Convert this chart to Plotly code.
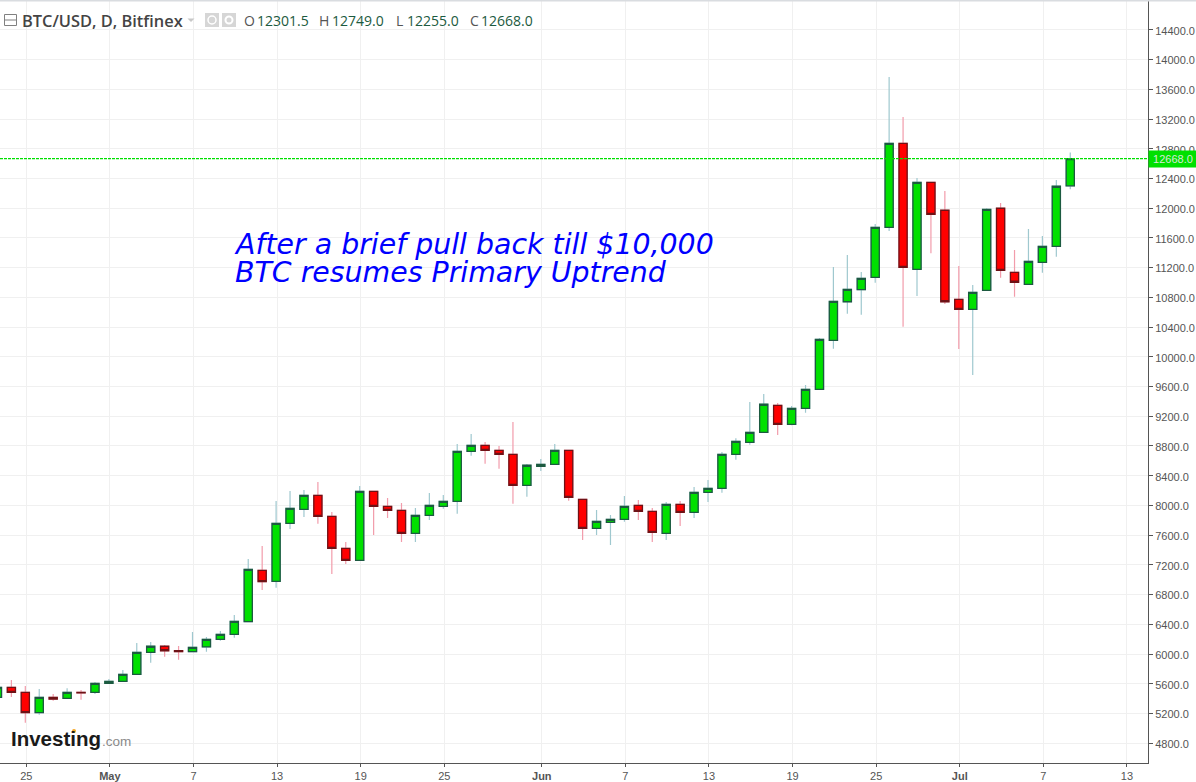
import pandas as pd
import plotly.graph_objects as go

dates = [d.strftime("%Y-%m-%d") for d in pd.date_range("2019-04-23", "2019-07-09")]
opens = [5417, 5552, 5484, 5210, 5417, 5404, 5484, 5484, 5605, 5632, 5727, 6023, 6104, 6044, 6031, 6095, 6198, 6265, 6435, 7126,
         6978, 7759, 7947, 8136, 7853, 7422, 7261, 8190, 7988, 7934, 7624, 7867, 7988, 8055, 8728, 8809, 8741, 8688, 8270, 8526,
         8553, 8741, 8082, 7692, 7772, 7813, 8001, 7920, 7624, 8015, 7907, 8176, 8230, 8688, 8849, 8984, 9347, 9091, 9307, 9562,
         10222, 10741, 10903, 11070, 11743, 12873, 11177, 12348, 11972, 10774, 10639, 10895, 11999, 11137, 10976, 11272, 11487, 12301.5]
highs = [5570, 5650, 5569, 5529, 5461, 5538, 5515, 5623, 5663, 5784, 6148, 6161, 6121, 6107, 6296, 6229, 6309, 6525, 7278, 7453,
         8059, 8194, 8207, 8315, 7911, 7507, 8261, 8190, 8099, 8032, 7965, 8167, 8140, 8826, 8961, 8853, 8799, 9122, 8557, 8624,
         8826, 8741, 8082, 7938, 7871, 8126, 8072, 7965, 8046, 8059, 8247, 8342, 8719, 8903, 9391, 9499, 9378, 9338, 9620, 10253,
         11208, 11370, 11141, 11787, 13766, 13227, 12406, 12348, 12231, 11222, 10966, 11999, 12070, 11437, 11720, 11626, 12379, 12749]
lows = [5410, 5421, 5075, 5183, 5371, 5404, 5385, 5461, 5605, 5632, 5727, 5883, 5963, 5923, 6031, 6031, 6179, 6219, 6435, 6861,
        6892, 7682, 7844, 7754, 7077, 7211, 7261, 7601, 7830, 7507, 7507, 7803, 7955, 7888, 8669, 8561, 8494, 8023, 8117, 8463,
        8553, 8063, 7534, 7601, 7467, 7780, 7803, 7507, 7534, 7723, 7830, 8046, 8171, 8615, 8817, 8984, 8947, 9078, 9247, 9562,
        10109, 10580, 10566, 10997, 11693, 10405, 10818, 11393, 10710, 10105, 9755, 10895, 11064, 10809, 10976, 11132, 11347, 12255]
closes = [5552, 5484, 5210, 5417, 5394, 5484, 5477, 5605, 5632, 5727, 6023, 6104, 6044, 6031, 6090, 6198, 6265, 6440, 7140, 6973,
          7759, 7961, 8136, 7853, 7422, 7261, 8190, 7988, 7934, 7624, 7867, 8001, 8055, 8728, 8809, 8741, 8688, 8270, 8540, 8553,
          8741, 8109, 7692, 7786, 7813, 7988, 7920, 7638, 8015, 7907, 8176, 8230, 8688, 8863, 8984, 9361, 9091, 9307, 9562, 10235,
          10747, 10908, 11056, 11743, 12873, 11204, 12348, 11918, 10741, 10639, 10868, 11985, 11164, 11003, 11285, 11487, 12295, 12668]

x_tick_dates = ["2019-04-25", "2019-05-01", "2019-05-07", "2019-05-13", "2019-05-19", "2019-05-25", "2019-06-01",
                "2019-06-07", "2019-06-13", "2019-06-19", "2019-06-25", "2019-07-01", "2019-07-07", "2019-07-13"]
x_tick_labels = ["25", "<b>May</b>", "7", "13", "19", "25", "<b>Jun</b>", "7", "13", "19", "25", "<b>Jul</b>", "7", "13"]
y_ticks = [14400, 14000, 13600, 13200, 12800, 12400, 12000, 11600, 11200, 10800, 10400, 10000,
           9600, 9200, 8800, 8400, 8000, 7600, 7200, 6800, 6400, 6000, 5600, 5200, 4800]
title_text = "BTC/USD, D, Bitfinex"
ohlc_labels = ["O", "H", "L", "C"]
ohlc_values = ["12301.5", "12749.0", "12255.0", "12668.0"]
note_lines = ["After a brief pull back till $10,000", "BTC resumes Primary Uptrend"]

W, H, PW, PH = 1196, 782, 1148, 763
px = lambda x: x / PW
py = lambda y: 1 - y / PH

GREEN, RED = "#00e000", "#ff0000"
GREEN_EDGE, RED_EDGE = "#1c5a40", "#6e1216"
GREEN_WICK, RED_WICK = "#9fc8cf", "#f29cab"
AXIS, GRID, LABEL = "#555555", "#f0f0f0", "#555555"

fig = go.Figure()
# wicks
fig.add_trace(go.Candlestick(
    x=dates, open=opens, high=highs, low=lows, close=closes, whiskerwidth=0, hoverinfo="skip",
    increasing=dict(line=dict(color=GREEN_WICK, width=1.2), fillcolor=GREEN),
    decreasing=dict(line=dict(color=RED_WICK, width=1.2), fillcolor=RED),
))
# bodies
fig.add_trace(go.Candlestick(
    x=dates, open=opens, close=closes,
    high=[max(o, c) for o, c in zip(opens, closes)],
    low=[min(o, c) for o, c in zip(opens, closes)],
    whiskerwidth=0, hoverinfo="skip",
    increasing=dict(line=dict(color=GREEN_EDGE, width=1.3), fillcolor=GREEN),
    decreasing=dict(line=dict(color=RED_EDGE, width=1.3), fillcolor=RED),
))

shapes = [
    # current price line
    dict(type="line", xref="paper", x0=0, x1=1, yref="y", y0=closes[-1], y1=closes[-1],
         line=dict(color="#00e000", width=1.2, dash="3px,1px"), layer="above"),
    # top strip
    dict(type="rect", xref="paper", yref="paper", x0=0, x1=W / PW, y0=py(1.5), y1=py(0),
         fillcolor="#d9dce0", line_width=0, layer="above"),
    # collapse icon
    dict(type="rect", xref="paper", yref="paper", x0=px(4.5), x1=px(16.5), y0=py(25.5), y1=py(14.5),
         line=dict(color="#808080", width=1), fillcolor="white", layer="above"),
    dict(type="line", xref="paper", yref="paper", x0=px(4.5), x1=px(16.5), y0=py(20), y1=py(20),
         line=dict(color="#808080", width=1), layer="above"),
    # caret
    dict(type="path", xref="paper", yref="paper",
         path=f"M {px(187.5)} {py(18.5)} L {px(194.5)} {py(18.5)} L {px(191)} {py(22)} Z",
         fillcolor="#c8c8c8", line_width=0, layer="above"),
    # eye / gear buttons
    dict(type="rect", xref="paper", yref="paper", x0=px(205), x1=px(219), y0=py(27), y1=py(13),
         fillcolor="#d6d6d6", line_width=0, layer="above"),
    dict(type="rect", xref="paper", yref="paper", x0=px(222), x1=px(236), y0=py(27), y1=py(13),
         fillcolor="#d6d6d6", line_width=0, layer="above"),
    dict(type="circle", xref="paper", yref="paper", x0=px(208), x1=px(216), y0=py(24), y1=py(16),
         fillcolor="#d6d6d6", line=dict(color="white", width=1.5), layer="above"),
    dict(type="circle", xref="paper", yref="paper", x0=px(225.5), x1=px(232.5), y0=py(23.5), y1=py(16.5),
         fillcolor="#d6d6d6", line=dict(color="white", width=2), layer="above"),
    # logo dot
    dict(type="circle", xref="paper", yref="paper", x0=px(72), x1=px(76), y0=py(733), y1=py(729),
         fillcolor="#f5a623", line_width=0, layer="above"),
]

def label(x, y, text, size, color, anchor="left", family="Liberation Sans", weight=None, **kw):
    font = dict(family=family, size=size, color=color)
    if weight:
        font["weight"] = weight
    fig.add_annotation(xref="paper", yref="paper", x=px(x), y=py(y), text=text, showarrow=False,
                       xanchor=anchor, yanchor="middle", borderpad=0, borderwidth=0, font=font, **kw)

label(22, 20, title_text, 16.4, "#444444", family="Open Sans", weight=600)
for lx, vx, l, v in zip([244, 319, 396, 470], [257, 332, 407, 481], ohlc_labels, ohlc_values):
    label(lx, 20, l, 14, "#555555", family="Open Sans")
    label(vx, 20, v, 14, "#1c5a40", family="Open Sans")

label(234, 244, "<i>" + note_lines[0] + "</i>", 28.4, "#0000ff", family="DejaVu Sans")
label(235, 272, "<i>" + note_lines[1] + "</i>", 28.4, "#0000ff", family="DejaVu Sans")

label(11, 738.5, "<b>Investing</b>", 20.5, "#1a1a1a")
label(102, 741, ".com", 13.5, "#8a8a8a")

# price tag
fig.add_annotation(xref="paper", yref="y", x=1, y=closes[-1], xanchor="left", yanchor="middle",
                   text=f"{closes[-1]:.1f}", showarrow=False, width=W - PW, height=16, align="center",
                   bgcolor="#00e000", borderpad=0,
                   font=dict(family="Liberation Sans", size=11, color="#d8e8d8"))

fig.update_layout(
    width=W, height=H, margin=dict(l=0, r=W - PW, t=0, b=H - PH),
    paper_bgcolor="white", plot_bgcolor="white", showlegend=False,
    boxgap=0.3, boxgroupgap=0.16, boxmode="overlay", hovermode=False, shapes=shapes,
    xaxis=dict(type="date", range=["2019-04-23 04:24", "2019-07-14 13:55"], rangeslider=dict(visible=False),
               tickmode="array", tickvals=[d + " 01:40" for d in x_tick_dates], ticktext=x_tick_labels,
               showgrid=True, gridcolor=GRID, gridwidth=1, zeroline=False,
               showline=True, linecolor=AXIS, linewidth=1, ticks="outside", ticklen=3, tickcolor=AXIS,
               tickangle=0, tickfont=dict(family="Liberation Sans", size=11, color=LABEL)),
    yaxis=dict(side="right", range=[4533, 14802], tickmode="array", tickvals=y_ticks,
               ticktext=[f"{v:.1f}" for v in y_ticks], showgrid=True, gridcolor=GRID, gridwidth=1, zeroline=False,
               showline=True, linecolor=AXIS, linewidth=1, ticks="outside", ticklen=4, tickcolor=AXIS,
               ticklabelshift=1,
               tickfont=dict(family="Liberation Sans", size=11, color=LABEL)),
)

fig.write_html("out.html", config=dict(displayModeBar=False),
               post_script="document.body.style.margin='0';")
